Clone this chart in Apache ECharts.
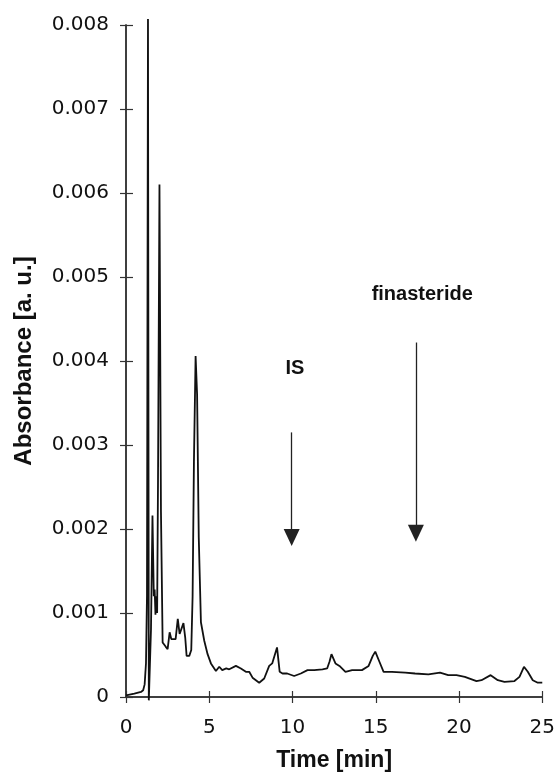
<!DOCTYPE html>
<html>
<head>
<meta charset="utf-8">
<script src="https://cdn.jsdelivr.net/npm/echarts@6/dist/echarts.min.js"></script>
<style>
  html, body { margin: 0; padding: 0; background: #fff; }
  #chart { width: 558px; height: 777px; }
</style>
</head>
<body>
<div id="chart"></div>
<script>
// retention time [min]
const times = [
  0, 0.5, 0.9, 1.03, 1.12, 1.2, 1.26, 1.32, 1.37, 1.42,
  1.5, 1.59, 1.67, 1.72, 1.77, 1.82, 1.87, 1.92, 2.01, 2.1,
  2.2, 2.38, 2.5, 2.62, 2.72, 2.83, 2.98, 3.11, 3.22, 3.32,
  3.45, 3.56, 3.64, 3.8, 3.92, 4.0, 4.08, 4.18, 4.27, 4.37,
  4.5, 4.7, 4.9, 5.1, 5.4, 5.6, 5.78, 6.02, 6.2, 6.6,
  6.9, 7.2, 7.4, 7.6, 8.0, 8.3, 8.6, 8.78, 9.07, 9.23,
  9.4, 9.68, 10.1, 10.5, 10.9, 11.3, 11.8, 12.08, 12.22, 12.34,
  12.58, 12.82, 13.18, 13.58, 14.17, 14.57, 14.82, 14.97, 15.22, 15.47,
  15.97, 16.77, 17.36, 18.16, 18.86, 19.35, 19.85, 20.35, 21.05, 21.35,
  21.9, 22.33, 22.73, 23.33, 23.63, 23.9, 24.13, 24.43, 24.73, 25
];
// absorbance [a. u.]
const absorbance = [
  0.00002, 0.00004, 0.00006, 0.00008, 0.00015, 0.0004, 0.0012, 0.00807, -0.00004, -0.00004,
  0.0008, 0.00216, 0.0012, 0.00128, 0.00098, 0.0012, 0.001, 0.0025, 0.0061, 0.0022,
  0.00065, 0.0006, 0.00057, 0.00077, 0.00069, 0.00068, 0.00069, 0.00093, 0.00075, 0.00074,
  0.00088, 0.0007, 0.00049, 0.00049, 0.00056, 0.0012, 0.0028, 0.00406, 0.0036, 0.0019,
  0.00089, 0.00067, 0.00051, 0.0004, 0.00031, 0.00036, 0.00032, 0.00034, 0.00033, 0.00037,
  0.00034, 0.0003, 0.0003, 0.00023, 0.00017, 0.00022, 0.00037, 0.0004, 0.00059, 0.0003,
  0.00028, 0.00028, 0.00025, 0.00028, 0.00032, 0.00032, 0.00033, 0.00034, 0.00042, 0.00051,
  0.0004, 0.00037, 0.0003, 0.00032, 0.00032, 0.00037, 0.00049, 0.00054, 0.00042, 0.0003,
  0.0003, 0.00029, 0.00028, 0.00027, 0.00029, 0.00026, 0.00026, 0.00024, 0.00019, 0.0002,
  0.00026, 0.0002, 0.00018, 0.00019, 0.00024, 0.00036, 0.0003, 0.0002, 0.00017, 0.00017
];
// peak markers: label, time, arrow start, arrowhead centre, label position
const markNames = ['IS', 'finasteride'];
const markTimes = [9.95, 17.41];
const arrowFrom = [0.00315, 0.00422];
const arrowTo = [0.0019, 0.00195];
const labelTimes = [10.14, 17.79];
const labelValues = [0.00391, 0.00479];

const xTicks = [0, 5, 10, 15, 20, 25];
const yMax = 0.008;

const axisColor = '#333';
const tickFont = { fontFamily: 'DejaVu Sans', fontSize: 20, color: '#111' };
const boldFont = { fontFamily: 'Liberation Sans', fontWeight: 'bold', color: '#111' };

const chart = echarts.init(document.getElementById('chart'), null, { renderer: 'canvas' });

const line = times.map((t, i) => [t, absorbance[i]]);
const arrows = markTimes.map((t, i) => [
  { coord: [t, arrowFrom[i]] },
  { coord: [t, arrowTo[i]] }
]);
const labels = markNames.map((n, i) => ({ name: n, value: [labelTimes[i], labelValues[i]] }));

// x and y axes drawn twice so the ticks cross the axis line
const xBase = {
  type: 'value', min: xTicks[0], max: xTicks[xTicks.length - 1], interval: 5,
  axisLine: { show: true, lineStyle: { color: axisColor, width: 1.5 } },
  splitLine: { show: false }
};
const yBase = {
  type: 'value', min: 0, max: yMax, interval: 0.001,
  axisLine: { show: true, lineStyle: { color: axisColor, width: 1.5 } },
  splitLine: { show: false }
};

chart.setOption({
  animation: false,
  backgroundColor: '#fff',
  grid: { left: 126, right: 13, top: 25, bottom: 78 },
  xAxis: [
    Object.assign({}, xBase, {
      name: 'Time [min]', nameLocation: 'middle', nameGap: 52,
      nameTextStyle: Object.assign({ fontSize: 23 }, boldFont),
      axisTick: { show: true, length: 6, lineStyle: { color: axisColor, width: 1.2 } },
      axisLabel: Object.assign({ margin: 21 }, tickFont)
    }),
    Object.assign({}, xBase, {
      position: 'bottom',
      axisTick: { show: true, inside: true, length: 6, lineStyle: { color: axisColor, width: 1.2 } },
      axisLabel: { show: false }
    })
  ],
  yAxis: [
    Object.assign({}, yBase, {
      name: 'Absorbance [a. u.]', nameLocation: 'middle', nameGap: 90,
      nameTextStyle: Object.assign({ fontSize: 24 }, boldFont),
      axisTick: { show: true, length: 6, lineStyle: { color: axisColor, width: 1.2 } },
      axisLabel: Object.assign({
        margin: 17,
        formatter: v => (v === 0 ? '0' : v.toFixed(3))
      }, tickFont)
    }),
    Object.assign({}, yBase, {
      position: 'left',
      axisTick: { show: true, inside: true, length: 7, lineStyle: { color: axisColor, width: 1.2 } },
      axisLabel: { show: false }
    })
  ],
  series: [
    {
      type: 'line',
      data: line,
      showSymbol: false,
      clip: false,
      lineStyle: { color: '#111', width: 1.8 },
      markLine: {
        silent: true,
        symbol: ['none', 'triangle'],
        symbolSize: [16, 17],
        label: { show: false },
        itemStyle: { color: '#111' },
        lineStyle: { color: '#222', width: 1.3, type: 'solid' },
        data: arrows
      }
    },
    {
      type: 'scatter',
      data: labels,
      symbolSize: 0,
      silent: true,
      itemStyle: { opacity: 1 },
      label: Object.assign({
        show: true, position: 'inside', fontSize: 20,
        formatter: p => p.name
      }, boldFont)
    }
  ]
});
</script>
</body>
</html>
